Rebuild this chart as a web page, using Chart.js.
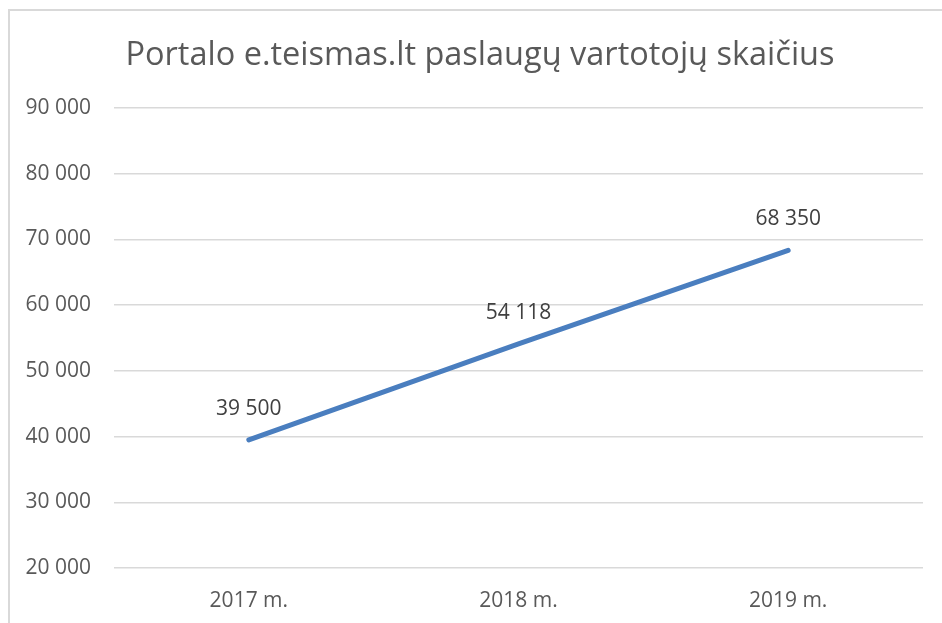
<!DOCTYPE html>
<html>
<head>
<meta charset="utf-8">
<script src="https://cdn.jsdelivr.net/npm/chart.js@4"></script>
<style>
    html, body { margin: 0; padding: 0; overflow: hidden; background: #fff; }
    #wrap { position: relative; width: 942px; height: 623px; overflow: hidden; }
    #chart { position: absolute; left: 9px; top: 0; }
    #frame {
        position: absolute; left: 8px; top: 9px; width: 960px; height: 640px;
        border: 2px solid #d9d9d9; pointer-events: none;
    }
</style>
</head>
<body>
<div id="wrap">
    <canvas id="chart" width="942" height="623"></canvas>
    <div id="frame"></div>
</div>
<script>
const years = ['2017 m.', '2018 m.', '2019 m.'];
const users = [39500, 54118, 68350];
const yTicks = [20000, 30000, 40000, 50000, 60000, 70000, 80000, 90000];

const fmt = v => String(v).replace(/\B(?=(\d{3})+(?!\d))/g, ' ');
const FONT = '"Open Sans", "Liberation Sans", sans-serif';

// labels above each point, like Excel data labels
const pointLabels = {
    id: 'pointLabels',
    afterDatasetsDraw(chart) {
        const ctx = chart.ctx;
        const meta = chart.getDatasetMeta(0);
        ctx.save();
        ctx.font = '21px ' + FONT;
        ctx.fillStyle = '#404040';
        ctx.textAlign = 'center';
        ctx.textBaseline = 'middle';
        meta.data.forEach((pt, i) => {
            ctx.fillText(fmt(users[i]), pt.x, pt.y - 31);
        });
        ctx.restore();
    }
};

// Excel centres the title on the whole chart box, not the plot
const titleShift = {
    id: 'titleShift',
    afterLayout(chart) {
        if (chart.titleBlock) chart.titleBlock.left += 19;
    }
};

new Chart(document.getElementById('chart').getContext('2d'), {
    type: 'line',
    data: {
        labels: years,
        datasets: [{
            data: users,
            borderColor: '#4A7EBF',
            borderWidth: 5,
            borderCapStyle: 'round',
            pointRadius: 0,
            tension: 0
        }]
    },
    options: {
        responsive: false,
        animation: false,
        layout: { padding: { left: 9, right: 28, top: 0, bottom: 0 } },
        plugins: {
            legend: { display: false },
            tooltip: { enabled: false },
            title: {
                display: true,
                text: 'Portalo e.teismas.lt paslaugų vartotojų skaičius',
                color: '#595959',
                font: { family: FONT, size: 32.5, weight: 'normal' },
                padding: { top: 36, bottom: 33 }
            }
        },
        scales: {
            x: {
                offset: true,
                grid: { display: false, drawTicks: false },
                border: { display: false },
                ticks: { color: '#595959', font: { family: FONT, size: 21 }, padding: 20 },
                afterFit: s => { s.height = 55; }
            },
            y: {
                min: yTicks[0],
                max: yTicks[yTicks.length - 1],
                afterBuildTicks: s => { s.ticks = yTicks.map(v => ({ value: v })); },
                grid: { color: '#d9d9d9', lineWidth: 1.5, drawTicks: false },
                border: { display: false },
                ticks: {
                    color: '#595959',
                    font: { family: FONT, size: 21 },
                    padding: 23,
                    callback: v => fmt(v)
                },
                afterFit: s => { s.width = 96; }
            }
        }
    },
    plugins: [pointLabels, titleShift]
});
</script>
</body>
</html>
